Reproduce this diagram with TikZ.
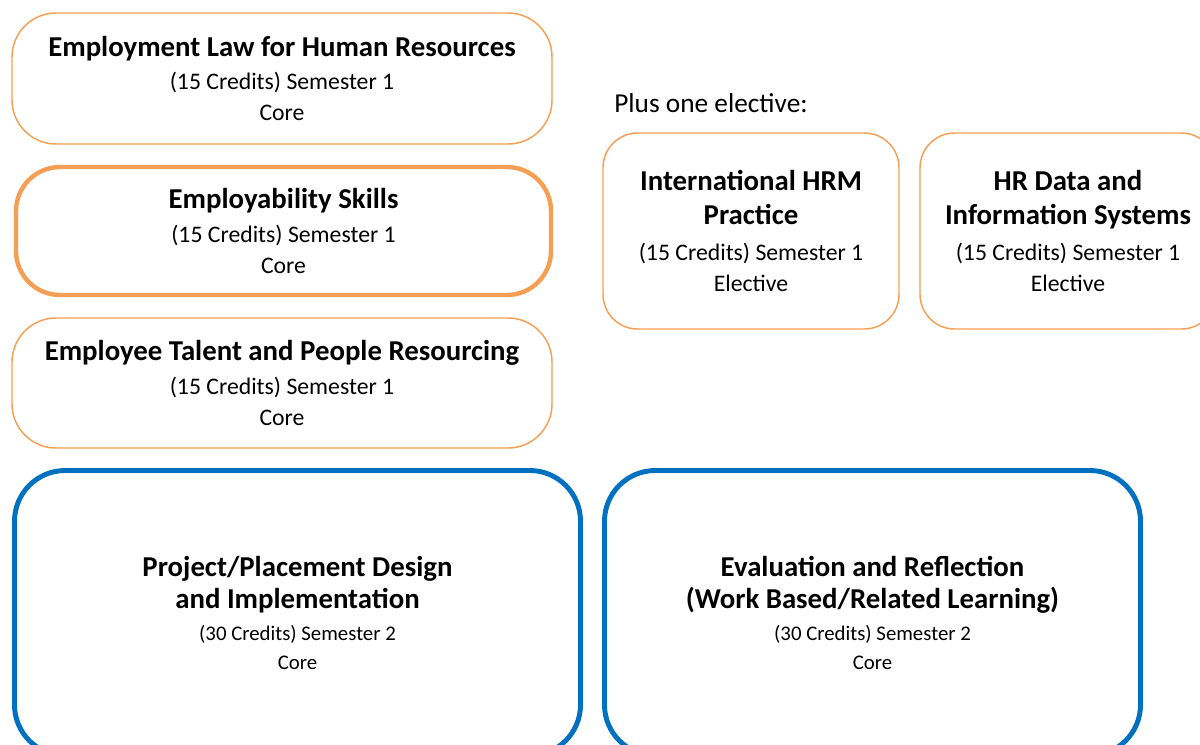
\documentclass[tikz,border=0pt]{standalone}
\usepackage{fontspec}
\setmainfont{Carlito}
\definecolor{coreorange}{RGB}{246,158,84}
\definecolor{coreblue}{RGB}{0,112,192}
\newcommand{\modtitle}[1]{{\fontsize{21.6}{25}\selectfont\bfseries #1}}

\begin{document}
\begin{tikzpicture}[x=0.75pt,y=0.75pt,yscale=-1,xscale=1,
  module/.style={draw=coreorange, line width=1.1pt, rounded corners=33pt, align=center, inner sep=0pt, font=\fontsize{17.8}{23.5}\selectfont},
  elective/.style={module, rounded corners=26pt, minimum width=222pt, minimum height=147pt},
  project/.style={module, draw=coreblue, line width=3.7pt, rounded corners=38pt, minimum height=213.75pt, font=\fontsize{15.6}{22}\selectfont}]
\useasboundingbox (0,0) rectangle (1200,744);

% Semester 1 core modules
\node [module, minimum width=405pt, minimum height=98.25pt] (lawhr) at (282,78.5) {\modtitle{Employment Law for Human Resources}\\[1.5pt] (15 Credits) Semester 1\\ Core};
\node [module, line width=3.3pt, minimum width=401.25pt, minimum height=96pt] (skills) at (283.5,231) {\modtitle{Employability Skills}\\[1.5pt] (15 Credits) Semester 1\\ Core};
\node [module, minimum width=405pt, minimum height=97.5pt] (talent) at (282,383) {\modtitle{Employee Talent and People Resourcing}\\[1.5pt] (15 Credits) Semester 1\\ Core};

% Electives
\node [anchor=west, inner sep=0pt, font=\fontsize{20.5}{24}\selectfont] (plusone) at (614,103) {Plus one elective:};
\node [elective] (inthrm) at (751,231) {\modtitle{International HRM}\\[2pt] \modtitle{Practice}\\[3pt] (15 Credits) Semester 1\\ Elective};
\node [elective] (hrdata) at (1068,231) {\modtitle{HR Data and}\\[2pt] \modtitle{Information Systems}\\[3pt] (15 Credits) Semester 1\\ Elective};

% Semester 2 core modules
\node [project, minimum width=424.5pt] (placement) at (297.5,613) {\modtitle{Project/Placement Design}\\[1.5pt] \modtitle{and Implementation}\\[2pt] (30 Credits) Semester 2\\ Core};
\node [project, minimum width=402pt] (reflection) at (872.5,613) {\modtitle{Evaluation and Reflection}\\[1.5pt] \modtitle{(Work Based/Related Learning)}\\[2pt] (30 Credits) Semester 2\\ Core};

\end{tikzpicture}
\end{document}
